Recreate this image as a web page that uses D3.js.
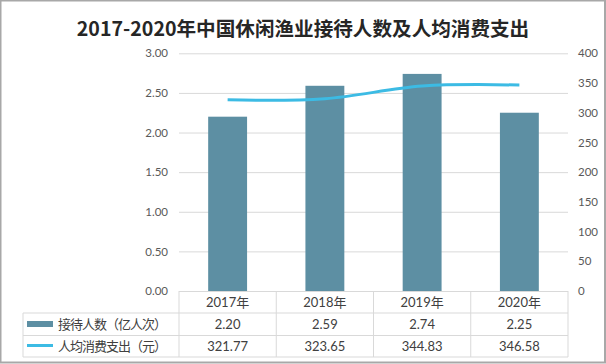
<!DOCTYPE html>
<html><head><meta charset="utf-8">
<script src="https://cdn.jsdelivr.net/npm/d3@7/dist/d3.min.js"></script>
<style>
html,body{margin:0;padding:0;background:#fff;}
svg{display:block;}
</style></head>
<body>
<svg id="chart" width="606" height="364"></svg>
<script>
const title = "2017-2020年中国休闲渔业接待人数及人均消费支出";
const years = ["2017年", "2018年", "2019年", "2020年"];
const visitors = [2.20, 2.59, 2.74, 2.25];
const spending = [321.77, 323.65, 344.83, 346.58];
const visitorsLabel = "接待人数（亿人次）";
const spendingLabel = "人均消费支出（元）";
const leftTicks = [0, 0.5, 1, 1.5, 2, 2.5, 3];
const rightTicks = [0, 50, 100, 150, 200, 250, 300, 350, 400];

const barColor = "#5d8fa3";
const lineColor = "#3cbbe4";
const gridColor = "#d9d9d9";
const numFont = "Lato, 'Noto Sans CJK SC', sans-serif";
const cjkFont = "'Noto Sans CJK SC', sans-serif";

const svg = d3.select("#chart");
const L = 179, R = 568, T = 53.3, B = 291;
const tableLeft = 23, row1 = 313, row2 = 335.5, tableBottom = 357;

// frame
svg.append("rect").attr("x", 0.5).attr("y", 0.5).attr("width", 604.5).attr("height", 362)
  .attr("fill", "#fff").attr("stroke", "#a8a8a8").attr("stroke-width", 2);

// title
svg.append("text").attr("x", 303).attr("y", 36).attr("text-anchor", "middle")
  .attr("font-family", cjkFont).attr("font-weight", "bold").attr("font-size", 19.6)
  .attr("fill", "#262626").text(title);

const x = d3.scaleBand().domain(years).range([L, R]).paddingInner(0.6).paddingOuter(0.3);
const yL = d3.scaleLinear().domain([0, 3]).range([B, T]);
const yR = d3.scaleLinear().domain([0, 400]).range([B, T]);
const cx = d => x(d) + x.bandwidth() / 2;

// gridlines + left axis
const leftAxis = d3.axisLeft(yL).tickValues(leftTicks).tickFormat(d3.format(".2f"))
  .tickSize(-(R - L)).tickPadding(11);
const gl = svg.append("g").attr("transform", `translate(${L},0)`).call(leftAxis);
gl.select(".domain").remove();
gl.selectAll(".tick line").attr("stroke", gridColor).attr("stroke-width", 1);
gl.selectAll(".tick text").attr("font-family", numFont).attr("font-size", 11.5).attr("fill", "#595959");

// right axis
const rightAxis = d3.axisRight(yR).tickValues(rightTicks).tickSize(0).tickPadding(10);
const gr = svg.append("g").attr("transform", `translate(${R},0)`).call(rightAxis);
gr.select(".domain").remove();
gr.selectAll(".tick text").attr("font-family", numFont).attr("font-size", 11.5).attr("fill", "#595959");

// bars
svg.append("g").selectAll("rect").data(visitors).join("rect")
  .attr("x", (d, i) => x(years[i])).attr("width", x.bandwidth())
  .attr("y", d => yL(d)).attr("height", d => B - yL(d)).attr("fill", barColor);

// line
const line = d3.line().x((d, i) => cx(years[i])).y(d => yR(d)).curve(d3.curveCatmullRom.alpha(0));
svg.append("path").datum(spending).attr("d", line).attr("fill", "none")
  .attr("stroke", lineColor).attr("stroke-width", 3).attr("stroke-linecap", "butt");

// data table
const tg = svg.append("g").attr("stroke", gridColor).attr("stroke-width", 1).attr("fill", "none");
const hl = (x1, x2, y) => tg.append("line").attr("x1", x1).attr("x2", x2).attr("y1", y).attr("y2", y);
const vl = (xx, y1, y2) => tg.append("line").attr("x1", xx).attr("x2", xx).attr("y1", y1).attr("y2", y2);
hl(L, R, B + 0.5);
hl(tableLeft, R, row1);
hl(tableLeft, R, row2);
hl(tableLeft, R, tableBottom);
vl(tableLeft, row1, tableBottom);
const bounds = [L].concat(years.map(y => x(y) + x.bandwidth() / 2 + x.step() / 2));
bounds.forEach(b => vl(b, B, tableBottom));

const txt = svg.append("g").attr("font-family", numFont).attr("font-size", 13).attr("fill", "#404040")
  .attr("text-anchor", "middle");
txt.selectAll(".yr").data(years).join("text").attr("x", d => cx(d)).attr("y", 307)
  .text(d => d);
txt.selectAll(".v1").data(visitors).join("text").attr("x", (d, i) => cx(years[i])).attr("y", 329)
  .text(d => d3.format(".2f")(d));
txt.selectAll(".v2").data(spending).join("text").attr("x", (d, i) => cx(years[i])).attr("y", 350.5)
  .text(d => d3.format(".2f")(d));

// legend keys in table
svg.append("rect").attr("x", 27).attr("y", 321).attr("width", 26).attr("height", 6).attr("fill", barColor);
svg.append("line").attr("x1", 27).attr("x2", 53).attr("y1", 345.5).attr("y2", 345.5)
  .attr("stroke", lineColor).attr("stroke-width", 3);
svg.append("text").attr("x", 58).attr("y", 329).attr("font-family", cjkFont).attr("font-size", 13)
  .attr("fill", "#404040").attr("textLength", 109).text(visitorsLabel);
svg.append("text").attr("x", 58).attr("y", 350.5).attr("font-family", cjkFont).attr("font-size", 13)
  .attr("fill", "#404040").attr("textLength", 109).text(spendingLabel);
</script>
</body></html>
